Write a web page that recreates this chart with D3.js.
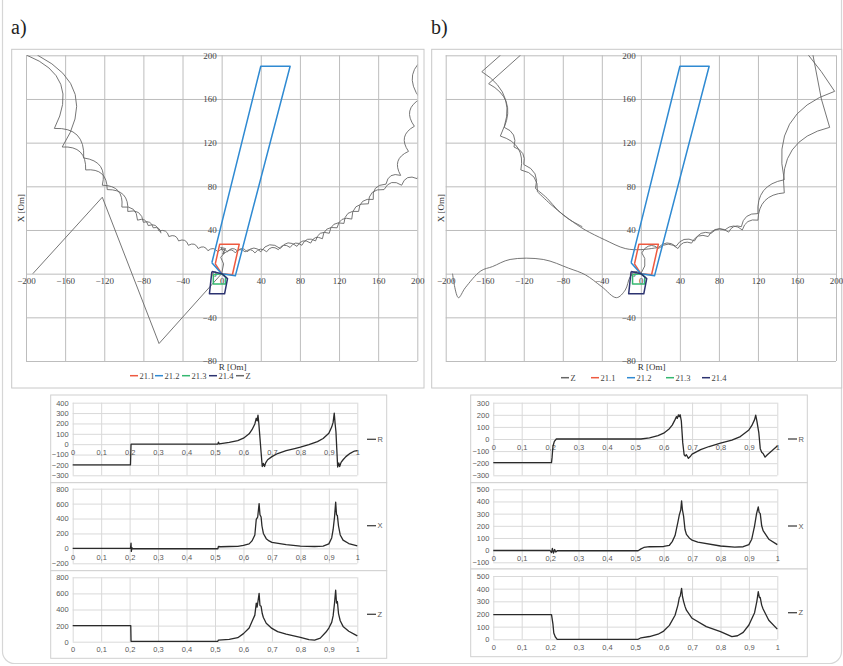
<!DOCTYPE html>
<html>
<head>
<meta charset="utf-8">
<script src="https://cdn.jsdelivr.net/npm/d3@7"></script>
<style>
  html, body { margin: 0; padding: 0; background: #fff; }
  svg { display: block; }
</style>
</head>
<body>
<svg id="fig" width="843" height="666"></svg>
<script>
// ---------- impedance plane: relay zone characteristics (R, X in Om) ----------
const zone21_1 = [[-6.5, 9], [-2, 27], [18, 27], [11, -1], [0, 0], [-6.5, 9]];
const zone21_2 = [[-10, 10], [40, 190], [70, 190], [14, -2], [0, 0], [-10, 10]];
const zone21_3 = [[-8.5, -1], [-8.5, -9.5], [4, -9.5], [4, -3], [0, 0], [-8.5, -1]];
const zone21_4 = [[-10, 2], [-12.5, -18.5], [3, -18.5], [6, -4.5], [0, 0], [-10, 2]];

// ---------- impedance trajectory, case a) ----------
const zFaultA  = [[-193, 0], [-122, 70], [-64, -64], [0, 0]];
const zOriginA = [[0, 0], [2, 9], [-1, 15], [3, 19], [-1, 24], [4, 23], [1, 18], [5, 20]];
const zSwingA1 = [[5, 20], [14, 19], [24, 20], [34, 19], [46, 20], [58, 22], [70, 24], [82, 26], [96, 30],
  [110, 37], [125, 46], [140, 57], [155, 68], [168, 82], [183, 90], [191, 112], [197, 135], [203, 160],
  [212, 200], [225, 260]];
const zSwingA2 = [[-230, 260], [-199, 200], [-171, 133], [-141, 106], [-122, 81], [-102, 61], [-86, 49],
  [-75, 44], [-64, 39], [-54, 34], [-44, 30], [-34, 26], [-24, 23], [-14, 21], [-4, 20], [6, 20], [16, 21],
  [26, 20], [40, 20], [60, 23], [77, 25], [91, 28], [103, 32], [118, 42], [133, 50], [150, 64], [166, 77],
  [184, 81], [200, 87], [230, 100]];
const zSwingA3 = [[-215, 250], [-188, 200], [-163, 116], [-139, 95], [-117, 77], [-96, 57], [-80, 47],
  [-70, 42], [-62, 37]];

// ---------- impedance trajectory, case b) ----------
const zFaultB  = [[-193, 0], [-187, -22], [-180, -13], [-164, 2.5], [-152, 6.5], [-134, 13], [-100, 13],
  [-74, 5], [-57, -1], [-40, -12], [-25, -22], [-16, -15], [-11, -3], [-5, 2], [0, 0]];
const zOriginB = [[0, 0], [4, 7], [4, 14], [1, 19], [4, 23]];
const zLinkB1  = [[193.5, 134], [185, 160], [176, 202], [170, 240]];
const zLinkB2a = [[-138, 230], [-144, 200], [-163, 185]];
const zLinkB2b = [[198.6, 167], [185, 185], [171, 201], [160, 230]];
const zLinkB3  = [[-118, 230], [-123.5, 200], [-156, 174]];
const zSmoothB2 = [[-106, 75], [-93, 64], [-81, 55], [-69, 47], [-57, 40], [-37, 31], [-16, 23], [0, 22], [18, 24]];
const zSmoothB3 = [[-108, 78], [-96, 69], [-85, 58], [-74, 50], [-60, 43]];
const zSwingB1 = [[4, 23], [18, 23], [38, 23], [52, 28], [69, 34], [86, 40], [104, 40], [120, 49], [147, 74], [193.5, 134]];
const zSwingB2a = [[-163, 185], [-144, 126], [-123, 95], [-106, 75]];
const zSwingB2b = [[18, 24], [36, 25], [55, 30], [72, 37], [90, 38], [103, 43], [120, 55], [147, 86], [198.6, 167]];
const zSwingB3 = [[-156, 174], [-140, 134], [-130, 116], [-120, 100], [-108, 78]];

// ---------- axis ticks ----------
const rTicks = [-200, -160, -120, -80, -40, 0, 40, 80, 120, 160, 200];
const xTicks = [-80, -40, 0, 40, 80, 120, 160, 200];
const timeTicks = [0, 0.1, 0.2, 0.3, 0.4, 0.5, 0.6, 0.7, 0.8, 0.9, 1];
const timeTickLabels = ["0", "0,1", "0,2", "0,3", "0,4", "0,5", "0,6", "0,7", "0,8", "0,9", "1"];
const rTicksTA = [-300, -200, -100, 0, 100, 200, 300, 400];
const xTicksTA = [-200, 0, 200, 400, 600, 800];
const zTicksTA = [0, 200, 400, 600, 800];
const rTicksTB = [-300, -200, -100, 0, 100, 200, 300];
const xTicksTB = [-100, 0, 100, 200, 300, 400, 500];
const zTicksTB = [0, 100, 200, 300, 400, 500];

// ---------- time series (t in s, values in Om), case a) ----------
const rSeriesA = [[0, -200], [0.203, -200], [0.205, 0], [0.51, 0], [0.512, 20], [0.515, 2], [0.55, 18], [0.58, 35],
  [0.6, 58], [0.62, 100], [0.63, 140], [0.64, 195], [0.645, 250], [0.648, 225], [0.651, 280], [0.654, 200],
  [0.658, 60], [0.662, -80], [0.666, -215], [0.67, -185], [0.674, -215], [0.678, -180], [0.685, -150],
  [0.7, -120], [0.72, -90], [0.75, -62], [0.78, -42], [0.8, -28], [0.83, -5], [0.86, 25], [0.88, 55],
  [0.9, 105], [0.91, 165], [0.915, 210], [0.919, 300], [0.922, 200], [0.925, 120], [0.928, -50],
  [0.931, -220], [0.935, -180], [0.938, -215], [0.943, -175], [0.95, -150], [0.96, -120], [0.975, -88],
  [0.99, -66], [1, -62]];
const xSeriesA = [[0, 0], [0.203, 0], [0.205, 70], [0.206, -40], [0.208, 10], [0.21, -5], [0.51, -5], [0.512, 25],
  [0.52, 22], [0.55, 25], [0.58, 28], [0.6, 40], [0.62, 60], [0.63, 100], [0.64, 180], [0.645, 390],
  [0.65, 420], [0.655, 600], [0.658, 450], [0.662, 420], [0.665, 300], [0.67, 200], [0.68, 130], [0.69, 100],
  [0.7, 80], [0.75, 50], [0.8, 30], [0.85, 25], [0.88, 30], [0.9, 60], [0.91, 140], [0.915, 250],
  [0.92, 420], [0.924, 620], [0.927, 450], [0.93, 440], [0.934, 300], [0.94, 180], [0.95, 110],
  [0.97, 65], [1, 35]];
const zSeriesA = [[0, 200], [0.204, 200], [0.205, 5], [0.51, 5], [0.512, 20], [0.55, 28], [0.58, 50], [0.6, 100],
  [0.62, 170], [0.63, 250], [0.64, 330], [0.645, 480], [0.648, 430], [0.651, 500], [0.655, 600], [0.658, 450],
  [0.662, 440], [0.666, 350], [0.67, 300], [0.68, 230], [0.7, 165], [0.72, 125], [0.75, 95], [0.8, 55],
  [0.83, 25], [0.85, 20], [0.87, 45], [0.89, 120], [0.9, 170], [0.91, 240], [0.915, 320], [0.92, 480],
  [0.924, 640], [0.927, 480], [0.93, 500], [0.934, 350], [0.94, 260], [0.95, 190], [0.97, 130], [1, 72]];

// ---------- time series, case b) ----------
const rSeriesB = [[0, -195], [0.205, -195], [0.207, -150], [0.21, -60], [0.215, -20], [0.222, 0], [0.52, 0],
  [0.55, 10], [0.58, 28], [0.6, 48], [0.62, 85], [0.63, 115], [0.64, 160], [0.645, 185], [0.648, 170],
  [0.652, 200], [0.655, 185], [0.658, 200], [0.662, 150], [0.667, -30], [0.672, -130], [0.676, -140],
  [0.68, -130], [0.687, -160], [0.695, -140], [0.7, -125], [0.73, -88], [0.76, -62], [0.8, -35], [0.84, -10],
  [0.87, 20], [0.9, 75], [0.91, 110], [0.92, 160], [0.924, 198], [0.928, 150], [0.935, 50], [0.94, -80],
  [0.945, -110], [0.95, -120], [0.957, -150], [0.965, -130], [0.98, -100], [1, -58]];
const xSeriesB = [[0, -3], [0.2, -3], [0.205, -20], [0.208, 15], [0.212, -25], [0.216, 5], [0.22, -15],
  [0.225, -5], [0.51, -5], [0.52, 10], [0.53, 22], [0.55, 28], [0.6, 30], [0.62, 40], [0.63, 70],
  [0.64, 120], [0.65, 230], [0.655, 290], [0.66, 330], [0.663, 405], [0.666, 330], [0.67, 280],
  [0.675, 170], [0.68, 130], [0.69, 100], [0.7, 82], [0.72, 65], [0.8, 34], [0.85, 25], [0.88, 28],
  [0.9, 45], [0.91, 90], [0.92, 200], [0.927, 300], [0.933, 356], [0.936, 310], [0.94, 300], [0.945, 200],
  [0.95, 160], [0.97, 90], [1, 45]];
const zSeriesB = [[0, 195], [0.205, 195], [0.21, 120], [0.213, 50], [0.218, 20], [0.225, 0], [0.51, 0],
  [0.52, 12], [0.55, 22], [0.58, 40], [0.6, 65], [0.62, 110], [0.64, 190], [0.65, 270], [0.655, 330],
  [0.658, 340], [0.663, 402], [0.666, 340], [0.67, 300], [0.675, 260], [0.68, 230], [0.7, 166], [0.75, 100],
  [0.8, 60], [0.84, 21], [0.86, 28], [0.88, 55], [0.9, 113], [0.92, 210], [0.928, 300], [0.933, 376],
  [0.937, 330], [0.94, 330], [0.945, 270], [0.95, 240], [0.97, 150], [1, 80]];

// ---------- drawing ----------
const svg = d3.select("#fig");
const SERIF = "'Liberation Serif', 'Times New Roman', serif";
const SANS = "'Liberation Sans', Arial, sans-serif";
const zoneColors = { "21.1": "#ee5a40", "21.2": "#2f8ad2", "21.3": "#35b870", "21.4": "#2c3370", "Z": "#666" };

// d3 curve that joins successive points with arches bowed to the inner side of the swing
function curveScallop(k) {
  return function (context) {
    let n = 0, x0 = 0, y0 = 0;
    return {
      areaStart() {}, areaEnd() {},
      lineStart() { n = 0; },
      lineEnd() {},
      point(x, y) {
        x = +x; y = +y;
        if (n === 0) context.moveTo(x, y);
        else {
          const dx = x - x0, dy = y - y0;
          context.quadraticCurveTo((x0 + x) / 2 + dy * k, (y0 + y) / 2 - dx * k, x, y);
        }
        n++; x0 = x; y0 = y;
      }
    };
  };
}

// whole-figure rounded border
svg.append("rect").attr("x", 2.5).attr("y", -20).attr("width", 839).attr("height", 683.5)
  .attr("rx", 12).attr("fill", "none").attr("stroke", "#d6d6d6").attr("stroke-width", 1.2);

svg.append("text").attr("x", 11).attr("y", 34).attr("font-family", SERIF).attr("font-size", 20).attr("fill", "#222").text("a)");
svg.append("text").attr("x", 431).attr("y", 34).attr("font-family", SERIF).attr("font-size", 20).attr("fill", "#222").text("b)");

function drawRX(cfg) {
  const g = svg.append("g");
  g.append("rect").attr("x", cfg.frame[0]).attr("y", cfg.frame[1]).attr("width", cfg.frame[2]).attr("height", cfg.frame[3])
    .attr("fill", "#fff").attr("stroke", "#c8c8c8").attr("stroke-width", 1);
  const x = d3.scaleLinear([-200, 200], [cfg.left, cfg.right]);
  const y = d3.scaleLinear([-80, 200], [cfg.bottom, cfg.top]);

  // grid
  g.append("g").attr("transform", `translate(0,${cfg.bottom})`)
    .call(d3.axisBottom(x).tickValues(rTicks).tickSize(-(cfg.bottom - cfg.top)).tickFormat(""))
    .call(s => { s.select(".domain").remove(); s.selectAll("line").attr("stroke", "#bdbdbd"); });
  g.append("g").attr("transform", `translate(${cfg.left},0)`)
    .call(d3.axisLeft(y).tickValues(xTicks).tickSize(-(cfg.right - cfg.left)).tickFormat(""))
    .call(s => { s.select(".domain").remove(); s.selectAll("line").attr("stroke", "#bdbdbd"); });

  // tick labels along the zero lines
  g.append("g").attr("transform", `translate(0,${y(0)})`)
    .call(d3.axisBottom(x).tickValues(rTicks).tickSize(0).tickPadding(4))
    .call(s => {
      s.select(".domain").remove();
      s.selectAll("text").attr("font-family", SERIF).attr("font-size", 9).attr("fill", "#444");
    });
  g.append("g").attr("transform", `translate(${x(0)},0)`)
    .call(d3.axisLeft(y).tickValues(xTicks).tickSize(0).tickPadding(5))
    .call(s => {
      s.select(".domain").remove();
      s.selectAll("text").attr("font-family", SERIF).attr("font-size", 9).attr("fill", "#444");
    });

  // axis titles
  g.append("text").attr("transform", `translate(${cfg.frame[0] + 12},208) rotate(-90)`)
    .attr("text-anchor", "middle").attr("font-family", SERIF).attr("font-size", 9).attr("fill", "#333").text("X [Om]");
  g.append("text").attr("x", x(0) - 3).attr("y", cfg.bottom + 8.5)
    .attr("font-family", SERIF).attr("font-size", 9).attr("fill", "#333").text("R [Om]");

  // clipped data area
  g.append("clipPath").attr("id", cfg.clip).append("rect")
    .attr("x", cfg.left).attr("y", cfg.top).attr("width", cfg.right - cfg.left).attr("height", cfg.bottom - cfg.top);
  const data = g.append("g").attr("clip-path", `url(#${cfg.clip})`);

  const straight = d3.line().x(d => x(d[0])).y(d => y(d[1]));
  const smooth = d3.line().x(d => x(d[0])).y(d => y(d[1])).curve(d3.curveCatmullRom);
  const scallop = d3.line().x(d => x(d[0])).y(d => y(d[1])).curve(curveScallop(cfg.bow));
  cfg.straight.forEach(pts => data.append("path").attr("d", straight(pts))
    .attr("fill", "none").attr("stroke", zoneColors.Z).attr("stroke-width", 0.9));
  cfg.smooth.forEach(pts => data.append("path").attr("d", smooth(pts))
    .attr("fill", "none").attr("stroke", zoneColors.Z).attr("stroke-width", 0.9));
  cfg.swing.forEach(pts => data.append("path").attr("d", scallop(pts))
    .attr("fill", "none").attr("stroke", zoneColors.Z).attr("stroke-width", 0.9));

  const zones = [["21.1", zone21_1], ["21.2", zone21_2], ["21.3", zone21_3], ["21.4", zone21_4]];
  zones.forEach(([name, pts]) => data.append("path").attr("d", straight(pts))
    .attr("fill", "none").attr("stroke", zoneColors[name]).attr("stroke-width", 1.5).attr("stroke-linejoin", "round"));

  // legend
  cfg.legend.forEach(([name, lx]) => {
    g.append("line").attr("x1", lx).attr("x2", lx + 8).attr("y1", cfg.legendY).attr("y2", cfg.legendY)
      .attr("stroke", zoneColors[name]).attr("stroke-width", 1.5);
    g.append("text").attr("x", lx + 9.5).attr("y", cfg.legendY).attr("dy", "0.35em")
      .attr("font-family", SERIF).attr("font-size", 8.5).attr("fill", "#444").text(name);
  });
}

drawRX({
  frame: [11.7, 49.3, 412.3, 338.7], left: 26, right: 417.3, top: 55.3, bottom: 361, clip: "clipA", bow: 0.55,
  straight: [zFaultA, zOriginA], smooth: [], swing: [zSwingA1, zSwingA2, zSwingA3],
  legend: [["21.1", 130], ["21.2", 155], ["21.3", 182], ["21.4", 209], ["Z", 236]], legendY: 375.7
});
drawRX({
  frame: [431.7, 49.3, 410, 338.7], left: 445.7, right: 836, top: 55.3, bottom: 361, clip: "clipB", bow: 0.45,
  straight: [zOriginB, zLinkB1, zLinkB2a, zLinkB2b, zLinkB3], smooth: [zFaultB, zSmoothB2, zSmoothB3],
  swing: [zSwingB1, zSwingB2a, zSwingB2b, zSwingB3],
  legend: [["Z", 561], ["21.1", 591], ["21.2", 627], ["21.3", 666], ["21.4", 702]], legendY: 377.7
});

// ---------- time-domain panels ----------
function drawSeries(cfg) {
  const g = svg.append("g");
  g.append("rect").attr("x", cfg.boxL).attr("y", cfg.boxT).attr("width", cfg.boxR - cfg.boxL).attr("height", cfg.boxB - cfg.boxT)
    .attr("fill", "#fff").attr("stroke", "#d0d0d0").attr("stroke-width", 1);
  const x = d3.scaleLinear([0, 1], [cfg.left, cfg.right]);
  const y = d3.scaleLinear([cfg.ticks[0], cfg.ticks[cfg.ticks.length - 1]], [cfg.bottom, cfg.top]);

  g.append("g").attr("transform", `translate(0,${cfg.bottom})`)
    .call(d3.axisBottom(x).tickValues(timeTicks).tickSize(-(cfg.bottom - cfg.top)).tickFormat(""))
    .call(s => { s.select(".domain").remove(); s.selectAll("line").attr("stroke", "#d9d9d9"); });
  g.append("g").attr("transform", `translate(${cfg.left},0)`)
    .call(d3.axisLeft(y).tickValues(cfg.ticks).tickSize(-(cfg.right - cfg.left)).tickPadding(4))
    .call(s => {
      s.select(".domain").remove();
      s.selectAll("line").attr("stroke", "#d9d9d9");
      s.selectAll("text").attr("font-family", SANS).attr("font-size", 7.5).attr("fill", "#595959");
    });
  const labelY = cfg.labelsAtZero ? y(0) : cfg.bottom;
  g.append("g").attr("transform", `translate(0,${labelY})`)
    .call(d3.axisBottom(x).tickValues(timeTicks).tickSize(0).tickPadding(cfg.labelsAtZero ? 6 : 5)
      .tickFormat((d, i) => timeTickLabels[i]))
    .call(s => {
      s.select(".domain").remove();
      s.selectAll("text").attr("font-family", SANS).attr("font-size", 7.5).attr("fill", "#595959");
    });

  const line = d3.line().x(d => x(d[0])).y(d => y(d[1]));
  g.append("path").attr("d", line(cfg.data)).attr("fill", "none").attr("stroke", "#2a2a2a").attr("stroke-width", 1.3)
    .attr("stroke-linejoin", "round");

  g.append("line").attr("x1", cfg.legendX).attr("x2", cfg.legendX + 9).attr("y1", cfg.legendY).attr("y2", cfg.legendY)
    .attr("stroke", "#444").attr("stroke-width", 1.3);
  g.append("text").attr("x", cfg.legendX + 10.5).attr("y", cfg.legendY).attr("dy", "0.35em")
    .attr("font-family", SANS).attr("font-size", 7.5).attr("fill", "#595959").text(cfg.name);
}

// case a)
drawSeries({ boxL: 50.7, boxR: 386.7, boxT: 395, boxB: 482.7, left: 72.7, right: 357.3, top: 402.7, bottom: 475.3,
  ticks: rTicksTA, data: rSeriesA, name: "R", labelsAtZero: true, legendX: 367, legendY: 439.3 });
drawSeries({ boxL: 50.7, boxR: 386.7, boxT: 482.7, boxB: 570.7, left: 72.7, right: 357.3, top: 488.7, bottom: 563.3,
  ticks: xTicksTA, data: xSeriesA, name: "X", labelsAtZero: true, legendX: 367, legendY: 525.7 });
drawSeries({ boxL: 50.7, boxR: 386.7, boxT: 570.7, boxB: 658.3, left: 72.7, right: 357.3, top: 577.3, bottom: 641.7,
  ticks: zTicksTA, data: zSeriesA, name: "Z", labelsAtZero: false, legendX: 367, legendY: 614.3 });
// case b)
drawSeries({ boxL: 470.7, boxR: 807.3, boxT: 395, boxB: 482.7, left: 493.3, right: 777.3, top: 402.7, bottom: 475.3,
  ticks: rTicksTB, data: rSeriesB, name: "R", labelsAtZero: true, legendX: 788, legendY: 439 });
drawSeries({ boxL: 470.7, boxR: 807.3, boxT: 482.7, boxB: 569, left: 493.3, right: 777.3, top: 489.3, bottom: 562.3,
  ticks: xTicksTB, data: xSeriesB, name: "X", labelsAtZero: true, legendX: 788, legendY: 526 });
drawSeries({ boxL: 470.7, boxR: 807.3, boxT: 569, boxB: 656.7, left: 493.3, right: 777.3, top: 576, bottom: 639.3,
  ticks: zTicksTB, data: zSeriesB, name: "Z", labelsAtZero: false, legendX: 788, legendY: 612.7 });
</script>
</body>
</html>
